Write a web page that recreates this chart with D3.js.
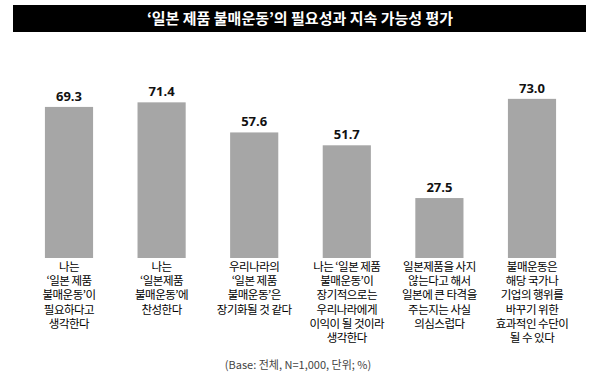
<!DOCTYPE html>
<html>
<head>
<meta charset="utf-8">
<script src="https://cdn.jsdelivr.net/npm/d3@7"></script>
<style>
  body { margin: 0; background: #fff; }
  svg { display: block; }
</style>
</head>
<body>
<svg class="chart"></svg>
<script>
// data
var categories = [
  "나는\n‘일본 제품\n불매운동’이\n필요하다고\n생각한다",
  "나는\n‘일본제품\n불매운동’에\n찬성한다",
  "우리나라의\n‘일본 제품\n불매운동’은\n장기화될 것 같다",
  "나는 ‘일본 제품\n불매운동’이\n장기적으로는\n우리나라에게\n이익이 될 것이라\n생각한다",
  "일본제품을 사지\n않는다고 해서\n일본에 큰 타격을\n주는지는 사실\n의심스럽다",
  "불매운동은\n해당 국가나\n기업의 행위를\n바꾸기 위한\n효과적인 수단이\n될 수 있다"
];
var values = [69.3, 71.4, 57.6, 51.7, 27.5, 73.0];
var titleText = "‘일본 제품 불매운동’의 필요성과 지속 가능성 평가";
var noteText = "(Base: 전체, N=1,000, 단위; %)";

var width = 600, height = 384;
var kFont = "'Noto Sans CJK KR', 'Noto Sans', sans-serif";

var svg = d3.select(".chart").attr("width", width).attr("height", height);

// title bar
svg.append("rect")
  .attr("x", 13).attr("y", 5)
  .attr("width", 573).attr("height", 27)
  .attr("fill", "#000");

svg.append("text")
  .attr("x", 300).attr("y", 24)
  .attr("text-anchor", "middle")
  .attr("fill", "#fff")
  .style("font-family", kFont)
  .style("font-size", "15px")
  .style("font-weight", "bold")
  .text(titleText);

var x = d3.scaleBand()
  .domain(d3.range(values.length))
  .range([22.7, 578.3])
  .paddingInner(0.48)
  .paddingOuter(0.24);

var y = d3.scaleLinear().domain([0, 100]).range([258, 40]);

// bars
svg.selectAll(".bar")
  .data(values)
  .enter().append("rect")
  .attr("class", "bar")
  .attr("x", function(d, i) { return x(i); })
  .attr("y", function(d) { return y(d); })
  .attr("width", x.bandwidth())
  .attr("height", function(d) { return y(0) - y(d); })
  .attr("fill", "#a6a6a6");

// value labels
svg.selectAll(".val")
  .data(values)
  .enter().append("text")
  .attr("class", "val")
  .attr("x", function(d, i) { return x(i) + x.bandwidth() / 2; })
  .attr("y", function(d) { return y(d) - 6; })
  .attr("text-anchor", "middle")
  .style("font-family", "'Open Sans', sans-serif")
  .style("font-weight", "bold")
  .style("font-size", "13px")
  .attr("fill", "#111")
  .text(function(d) { return d.toFixed(1); });

// category labels under the bars, one text per line
categories.forEach(function(label, i) {
  var cx = x(i) + x.bandwidth() / 2;
  svg.selectAll(".cat" + i)
    .data(label.split("\n"))
    .enter().append("text")
    .attr("class", "cat cat" + i)
    .attr("x", cx)
    .attr("y", function(line, j) { return 271 + j * 14.2; })
    .attr("text-anchor", "middle")
    .style("font-family", kFont)
    .style("font-size", "11.5px")
    .style("letter-spacing", "-0.5px")
    .attr("fill", "#000")
    .text(function(line) { return line; });
});

// footnote
svg.append("text")
  .attr("x", 298).attr("y", 369)
  .attr("text-anchor", "middle")
  .attr("fill", "#444")
  .style("font-family", kFont)
  .style("font-size", "11px")
  .text(noteText);
</script>
</body>
</html>
